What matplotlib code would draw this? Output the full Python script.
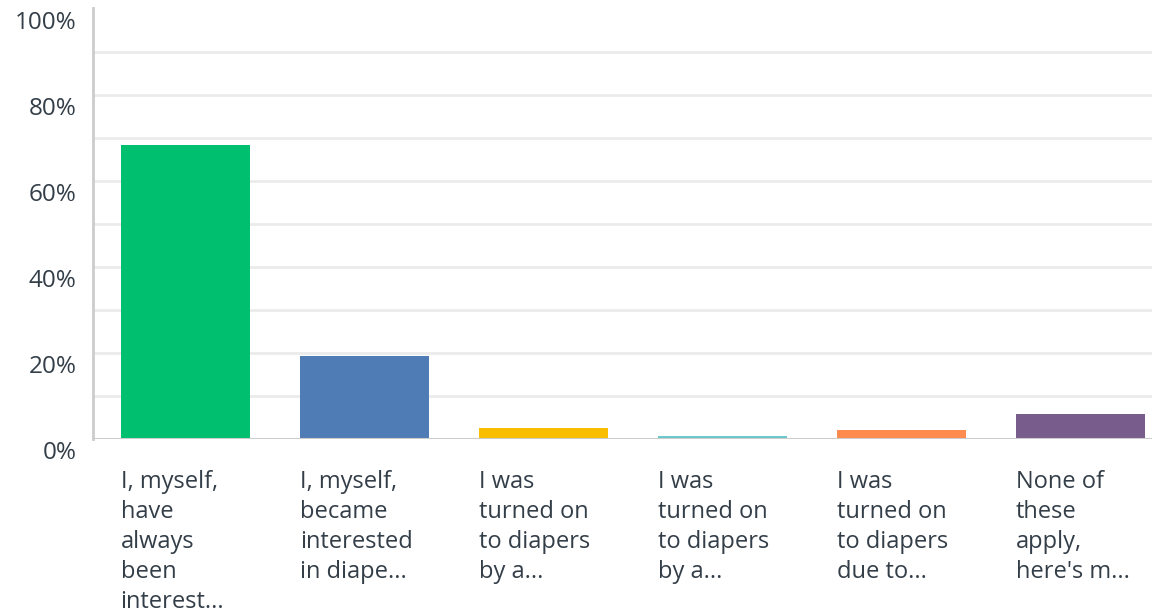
import matplotlib
matplotlib.use("Agg")
import matplotlib.pyplot as plt
import matplotlib.transforms as mtransforms

# answer choices (truncated as in the survey export) and percentages
labels = [
    "I, myself,\nhave\nalways\nbeen\ninterest...",
    "I, myself,\nbecame\ninterested\nin diape...",
    "I was\nturned on\nto diapers\nby a...",
    "I was\nturned on\nto diapers\nby a...",
    "I was\nturned on\nto diapers\ndue to...",
    "None of\nthese\napply,\nhere's m...",
]
values = [68.4, 19.4, 2.6, 0.6, 2.1, 5.7]
colors = ["#00bf6f", "#507cb6", "#f9be00", "#6bc8cd", "#ff8b4f", "#785c8b"]
yticks = [0, 20, 40, 60, 80, 100]

plt.rcParams['font.family'] = ['Open Sans', 'DejaVu Sans']
text_col = "#333e48"

fig = plt.figure(figsize=(11.52, 6.15), dpi=100)
ax = fig.add_axes([93 / 1152, 1 - 439 / 615, 1 - 93 / 1152, 430 / 615])

x = list(range(len(values)))
ax.bar(x, values, width=0.72, color=colors, linewidth=0, zorder=3)

ax.set_xlim(-0.514, 5.4)
ax.set_ylim(0, 100)

# gridlines every 10%, none at the top
for g in range(10, 100, 10):
    ax.axhline(g, color="#ebebeb", linewidth=2, zorder=1)
ax.axhline(0, color="#cccccc", linewidth=2.2, zorder=4)

for s in ["top", "right", "bottom"]:
    ax.spines[s].set_visible(False)
ax.spines["left"].set_color("#cccccc")
ax.spines["left"].set_linewidth(2)
ax.spines["left"].set_bounds(0, 100.3)

ax.set_yticks(yticks)
ax.set_yticklabels([f"{t}%" for t in yticks], fontsize=17.5, color=text_col)
ax.tick_params(axis="y", length=0, pad=12)
offset = mtransforms.ScaledTranslation(0, -11 / 100, fig.dpi_scale_trans)
for lab in ax.get_yticklabels():
    lab.set_transform(lab.get_transform() + offset)

ax.set_xticks([])
trans = mtransforms.blended_transform_factory(ax.transData, ax.transAxes)
for i, lab in enumerate(labels):
    ax.text(i - 0.36, -0.072, lab, transform=trans, ha="left", va="top",
            fontsize=17, color=text_col, linespacing=1.34)

fig.savefig("out.png", dpi=100)
